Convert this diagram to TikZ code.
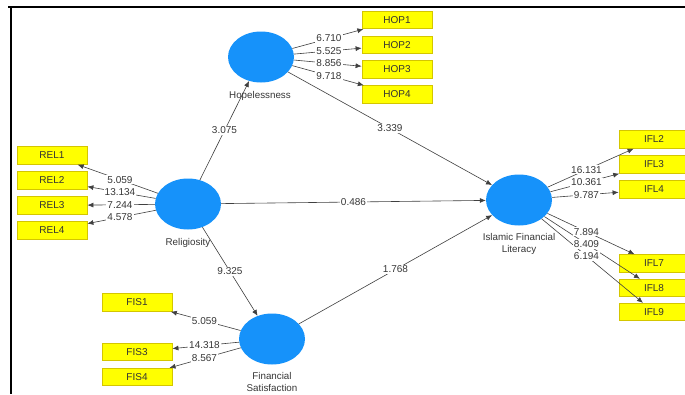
\documentclass[tikz,border=0pt]{standalone}
\usepackage{fontspec}
\setmainfont{Liberation Sans}
\usetikzlibrary{arrows.meta,calc,shapes.geometric}
\definecolor{lvblue}{RGB}{22,146,250}
\definecolor{indyel}{RGB}{255,255,0}
\definecolor{indbord}{RGB}{212,198,0}
\definecolor{txt}{RGB}{55,55,55}
\begin{document}
\begin{tikzpicture}[x=1pt,y=-1pt,
 lv/.style={ellipse, fill=lvblue, minimum width=66pt, minimum height=51pt, inner sep=0},
 ind/.style={rectangle, fill=indyel, draw=indbord, line width=0.8pt, minimum width=70pt, minimum height=17.5pt, inner sep=0, font=\fontsize{10}{10}\selectfont, text=black!80},
 lvlab/.style={font=\fontsize{9.8}{11.5}\selectfont, text=txt, align=center, inner sep=0},
 arr/.style={draw=black!75, line width=0.6pt, -{Latex[length=6pt,width=5pt]}},
 coef/.style={fill=white, inner sep=1pt, font=\fontsize{10}{10}\selectfont, text=txt},
]
\useasboundingbox (0,0) rectangle (685,394);
\fill[white] (0,0) rectangle (685,394);
% frame
\draw[line width=2pt] (8,7) -- (685,7);
\draw[line width=2pt] (11,7) -- (11,394);
% latent variables
\node[lv] (hop) at (261,57) {};
\node[lv] (rel) at (188,204) {};
\node[lv] (fs) at (272,339) {};
\node[lv] (ifl) at (519,200) {};
\node[lvlab] (hopl) at (260,96) {Hopelessness};
\node[lvlab] (rell) at (188,243) {Religiosity};
\node[lvlab] (fsl) at (272,382) {Financial\\Satisfaction};
\node[lvlab] (ifll) at (519,244) {Islamic Financial\\Literacy};
% indicators
\node[ind] (hop1) at (397,20) {HOP1};
\node[ind] (hop2) at (397,45) {HOP2};
\node[ind] (hop3) at (397,69.5) {HOP3};
\node[ind] (hop4) at (397,94.5) {HOP4};
\node[ind] (rel1) at (52,155.5) {REL1};
\node[ind] (rel2) at (52,180.5) {REL2};
\node[ind] (rel3) at (52,205.5) {REL3};
\node[ind] (rel4) at (52,230.5) {REL4};
\node[ind] (fis1) at (137,302.5) {FIS1};
\node[ind] (fis3) at (137,352) {FIS3};
\node[ind] (fis4) at (137,377) {FIS4};
\node[ind] (ifl2) at (654,139.5) {IFL2};
\node[ind] (ifl3) at (654,164.5) {IFL3};
\node[ind] (ifl4) at (654,189.5) {IFL4};
\node[ind] (ifl7) at (654,263.5) {IFL7};
\node[ind] (ifl8) at (654,288) {IFL8};
\node[ind] (ifl9) at (654,312) {IFL9};
% connectors
\def\edgelist{hop/hop1/6.710, hop/hop2/5.525, hop/hop3/8.856, hop/hop4/9.718,
 rel/rel1/5.059, rel/rel2/13.134, rel/rel3/7.244, rel/rel4/4.578,
 fs/fis1/5.059, fs/fis3/14.318, fs/fis4/8.567,
 ifl/ifl2/16.131, ifl/ifl3/10.361, ifl/ifl4/9.787, ifl/ifl7/7.894, ifl/ifl8/8.409, ifl/ifl9/6.194,
 rel/hop/3.075, hop/ifl/3.339, rel/ifl/0.486, rel/fs/9.325, fs/ifl/1.768}
\foreach \a/\b/\v in \edgelist { \draw[arr] (\a) -- (\b); }
\foreach \a/\b/\v in \edgelist { \path (\a.center) -- (\b.center) node[coef, midway] {\v}; }
\end{tikzpicture}
\end{document}
